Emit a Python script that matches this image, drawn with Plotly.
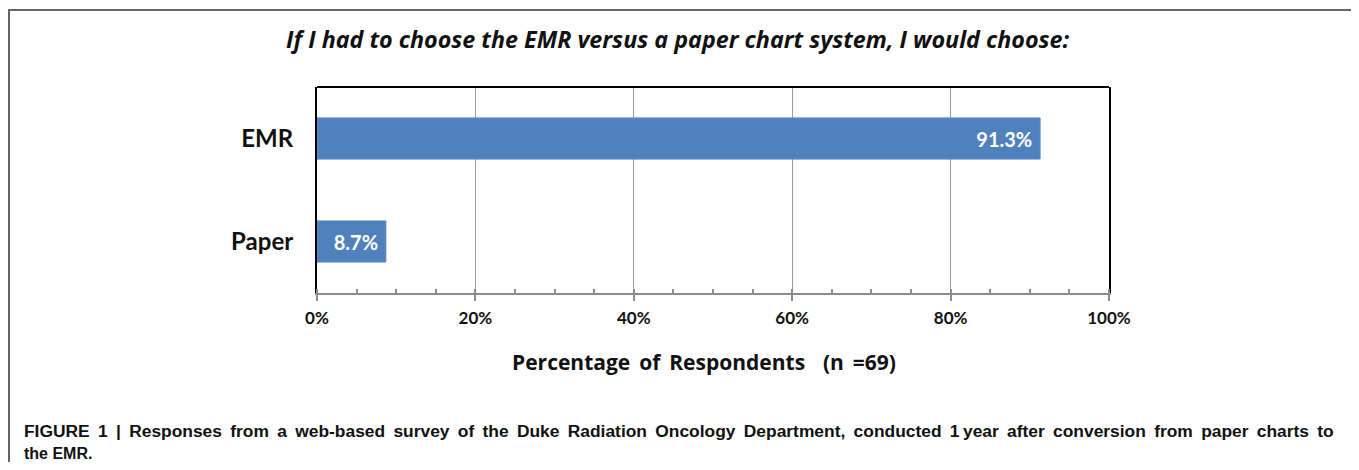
import plotly.graph_objects as go

categories = ["EMR", "Paper"]
percentages = [91.3, 8.7]
tick_values = [0, 20, 40, 60, 80, 100]
tick_labels = ["0%", "20%", "40%", "60%", "80%", "100%"]

title_text = "If I had to choose the EMR versus a paper chart system, I would choose:"
xaxis_title = "Percentage of Respondents  (n =69)"
caption_line1 = ("FIGURE 1 | Responses from a web-based survey of the Duke Radiation Oncology "
                 "Department, conducted 1\u2009year after conversion from paper charts to")
caption_line2 = "the EMR."

# page is offset by the 8px body margin
OFF = 8
W, H = 1359 - OFF, 470 - 2 * OFF
L, R, T, B = 317, 1109, 87, 293  # plot area in page pixels


def px(x):
    return (x - L) / (R - L)


def py(y):
    return (B - y) / (B - T)


def widen(s):
    # widen word gaps slightly, like the original typesetting
    return s.replace(" ", " \u2009")


fig = go.Figure()
fig.add_trace(go.Bar(
    y=categories,
    x=percentages,
    orientation="h",
    width=0.4,
    marker=dict(color="#4F81BD", line=dict(color="#5B8CC8", width=1)),
    texttemplate="%{x:.1f}%\u00a0",
    textposition="inside",
    insidetextanchor="end",
    textfont=dict(family="Lato", size=20, color="white", weight="bold"),
    hoverinfo="skip",
))

fig.update_layout(
    width=W, height=H,
    margin=dict(l=L - OFF, r=W - (R - OFF), t=T - OFF, b=H - (B - OFF), pad=0),
    plot_bgcolor="white",
    paper_bgcolor="white",
    showlegend=False,
    xaxis=dict(
        range=[0, 100],
        tickvals=tick_values,
        ticktext=tick_labels,
        showgrid=True,
        gridcolor="#9A9A9A",
        gridwidth=1,
        showline=True,
        linecolor="#8C8C8C",
        linewidth=2,
        ticks="outside",
        ticklen=6,
        tickcolor="#8C8C8C",
        tickwidth=2,
        ticklabelstandoff=3,
        minor=dict(dtick=5, tick0=0, ticks="inside", ticklen=4, tickcolor="#8C8C8C",
                   tickwidth=1.5, showgrid=False),
        tickfont=dict(family="Lato", size=17, color="#111111", weight="bold"),
        zeroline=False,
        fixedrange=True,
    ),
    yaxis=dict(
        categoryorder="array",
        categoryarray=categories,
        autorange="reversed",
        showline=True,
        mirror=True,
        linecolor="black",
        linewidth=2,
        ticks="",
        ticklabelstandoff=17,
        tickfont=dict(family="Lato", size=24, color="#111111", weight="bold"),
        showgrid=False,
        zeroline=False,
        fixedrange=True,
    ),
    shapes=[
        dict(type="line", xref="paper", yref="paper", x0=0, x1=1, y0=1, y1=1,
             line=dict(color="black", width=2)),
        dict(type="rect", xref="paper", yref="paper",
             x0=px(9), x1=px(1354), y0=py(10), y1=py(480),
             line=dict(color="#666666", width=2), layer="below"),
    ],
    annotations=[
        dict(text=title_text, xref="paper", yref="paper", x=px(678), y=py(39),
             xanchor="center", yanchor="middle", showarrow=False,
             font=dict(family="Open Sans", size=23.3, color="#111111", weight="bold", style="italic")),
        dict(text=widen(xaxis_title), xref="paper", yref="paper", x=px(704), y=py(362),
             xanchor="center", yanchor="middle", showarrow=False,
             font=dict(family="Open Sans", size=21, color="#111111", weight="bold")),
        dict(text=widen(caption_line1), xref="paper", yref="paper", x=px(22), y=py(431),
             xanchor="left", yanchor="middle", showarrow=False,
             font=dict(family="Liberation Sans", size=17.4, color="#111111", weight="bold")),
        dict(text=caption_line2, xref="paper", yref="paper", x=px(22), y=py(453),
             xanchor="left", yanchor="middle", showarrow=False,
             font=dict(family="Liberation Sans", size=16, color="#111111", weight="bold")),
    ],
)

fig.write_html("out.html")
